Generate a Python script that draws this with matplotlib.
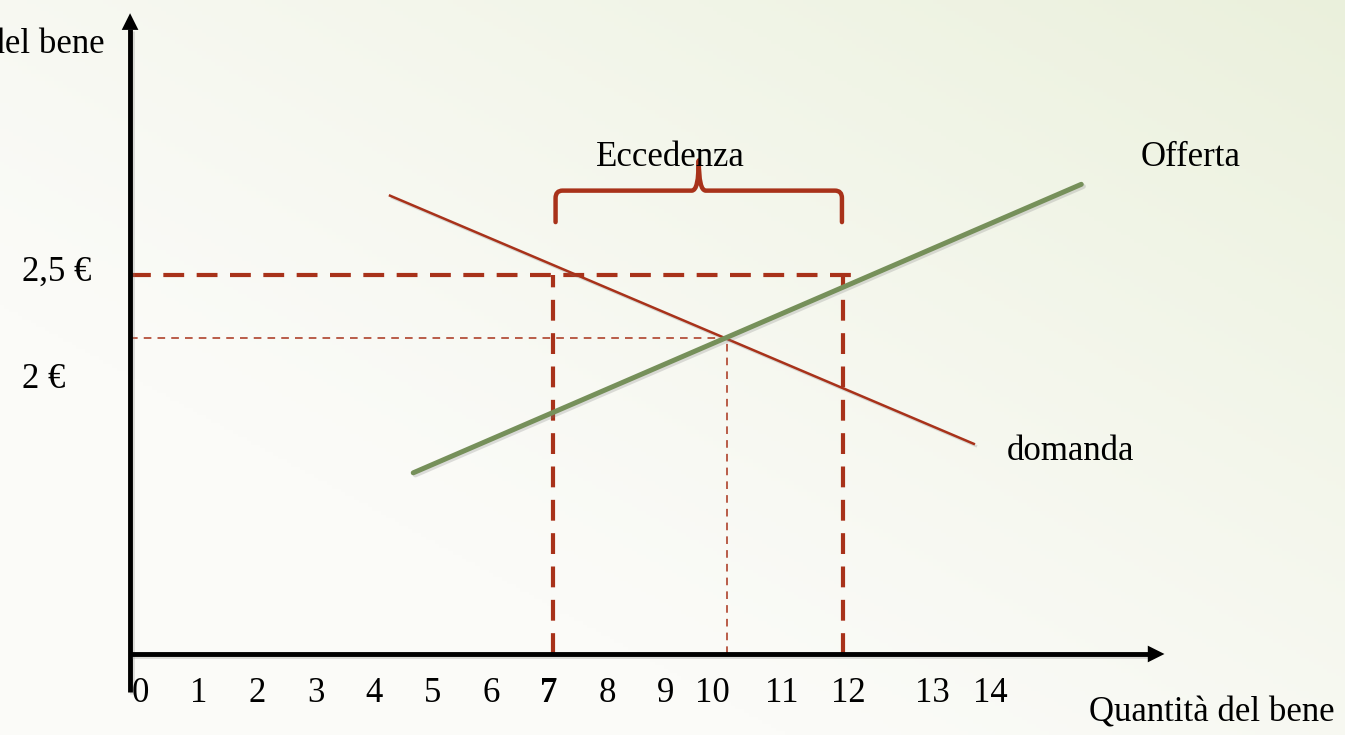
import numpy as np
import matplotlib.pyplot as plt
from matplotlib.path import Path
from matplotlib.patches import PathPatch, FancyArrowPatch
import matplotlib.patheffects as pe

# prezzi e quantità del mercato
prezzo_eccedenza = 2.5
prezzo_equilibrio = 2.0
q_domandata = 7
q_equilibrio = 10
q_offerta = 12

domanda_q = [4.2, 14.25]
domanda_p = [3.13, 1.16]
offerta_q = [4.6, 16.1]
offerta_p = [0.93, 3.22]

tick_labels = ["0", "1", "2", "3", "4", "5", "6", "7", "8", "9", "10", "11", "12", "13", "14"]
tick_pos = [-0.1, 0.9, 1.91, 2.93, 3.93, 4.94, 5.94, 6.94, 7.95, 8.95, 9.75, 10.95, 12.09, 13.53, 14.53]

ROSSO = "#A8321A"
VERDE = "#76905A"
FONT = "Liberation Serif"

fig = plt.figure(figsize=(13.45, 7.35), dpi=100)
ax = fig.add_axes([0, 0, 1, 1])
xmin, xmax = -2.514, 20.64
ymin, ymax = -1.151, 4.683
ax.set_xlim(xmin, xmax)
ax.set_ylim(ymin, ymax)
ax.axis("off")

# sfondo sfumato verso il verde in alto a destra
gx, gy = np.meshgrid(np.linspace(0, 1, 300), np.linspace(0, 1, 200))
t = np.clip(0.6 * gx + 0.6 * gy - 0.35, 0, 1) ** 1.2
c0 = np.array([251, 251, 248]) / 255
c1 = np.array([231, 238, 214]) / 255
bg = c0[None, None, :] * (1 - t[..., None]) + c1[None, None, :] * t[..., None]
ax.imshow(bg, extent=[xmin, xmax, ymin, ymax], origin="lower", aspect="auto", zorder=0)

ombra = [pe.SimpleLineShadow(offset=(1.5, -1.5), shadow_color="0.5", alpha=0.25), pe.Normal()]

# assi
x0, y0 = -0.275, -0.508
ax.plot([x0, x0], [-0.81, 4.45], color="black", lw=3.5, zorder=5, solid_capstyle="butt",
        path_effects=ombra)
ax.plot([x0, 17.3], [y0, y0], color="black", lw=3.5, zorder=5, solid_capstyle="butt",
        path_effects=ombra)
ax.add_patch(FancyArrowPatch((x0, 4.3), (x0, 4.6), arrowstyle="-|>", mutation_scale=30,
                             color="black", lw=0, zorder=6))
ax.add_patch(FancyArrowPatch((17.1, y0), (17.58, y0), arrowstyle="-|>", mutation_scale=30,
                             color="black", lw=0, zorder=6))

# linee tratteggiate dell'eccedenza
ax.plot([x0, 12.33], [prezzo_eccedenza] * 2, color=ROSSO, lw=3, dashes=(5, 3), zorder=3)
for q in (q_domandata, q_offerta):
    ax.plot([q, q], [y0, prezzo_eccedenza], color=ROSSO, lw=3, dashes=(5, 3), zorder=3)

# linee tratteggiate dell'equilibrio
ax.plot([x0, q_equilibrio], [prezzo_equilibrio] * 2, color=ROSSO, lw=1.1, dashes=(5, 4), zorder=3)
ax.plot([q_equilibrio] * 2, [y0, prezzo_equilibrio], color=ROSSO, lw=1.1, dashes=(5, 4), zorder=3)

# domanda e offerta
ax.plot(domanda_q, domanda_p, color=ROSSO, lw=1.8, zorder=4, path_effects=ombra)
ax.plot(offerta_q, offerta_p, color=VERDE, lw=3.6, zorder=4, solid_capstyle="round",
        path_effects=ombra)

# parentesi graffa sopra l'eccedenza
a, b = q_domandata + 0.05, q_offerta - 0.02
m = (a + b) / 2
yb, yh, yt = 2.92, 3.17, 3.41
r = 0.12
verts = [(a, yb), (a, yh - 0.06), (a, yh), (a + r, yh),
         (m - r, yh), (m, yh), (m, yt),
         (m, yh), (m + r, yh),
         (b - r, yh), (b, yh), (b, yh - 0.06), (b, yb)]
codes = [Path.MOVETO, Path.LINETO, Path.CURVE3, Path.CURVE3,
         Path.LINETO, Path.CURVE3, Path.CURVE3,
         Path.CURVE3, Path.CURVE3,
         Path.LINETO, Path.CURVE3, Path.CURVE3, Path.LINETO]
ax.add_patch(PathPatch(Path(verts, codes), fill=False, edgecolor=ROSSO, lw=3.2, zorder=4,
                       capstyle="round", joinstyle="round"))

# testi
fs = 25
ax.text(9.02, 3.43, "Eccedenza", fontsize=fs, family=FONT, ha="center", va="center", zorder=7)
ax.text(17.99, 3.43, "Offerta", fontsize=fs, family=FONT, ha="center", va="center", zorder=7)
ax.text(15.91, 1.10, "domanda", fontsize=fs, family=FONT, ha="center", va="center", zorder=7)
ax.text(-2.135, 2.52, "2,5 €", fontsize=fs, family=FONT, ha="left", va="center", zorder=7)
ax.text(-2.135, 1.67, "2 €", fontsize=fs, family=FONT, ha="left", va="center", zorder=7)
ax.text(-0.706, 4.33, "Prezzo del bene", fontsize=fs, family=FONT, ha="right", va="center", zorder=7)
ax.text(18.34, -0.98, "Quantità del bene", fontsize=fs, family=FONT, ha="center", va="center", zorder=7)

for lab, q in zip(tick_labels, tick_pos):
    ax.text(q, -0.82, lab, fontsize=fs, family=FONT, ha="center", va="center", zorder=7,
            fontweight="bold" if lab == "7" else "normal")

fig.savefig("out.png", dpi=100)
